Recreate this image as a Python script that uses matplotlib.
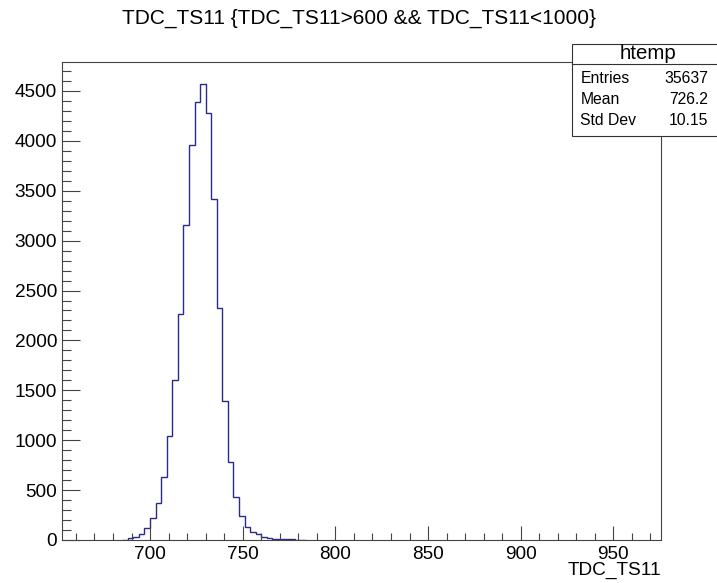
import matplotlib
matplotlib.use("Agg")
import matplotlib.pyplot as plt
import numpy as np
from matplotlib.patches import Rectangle
from matplotlib.ticker import MultipleLocator

plt.rcParams["font.family"] = ["Liberation Sans", "DejaVu Sans"]

# histogram contents, bins of width 3 starting at 685
firstEdge = 685
binWidth = 3
counts = [5, 17, 33, 60, 120, 218, 368, 630, 1047, 1603, 2269, 3153, 3956,
          4391, 4565, 4280, 3414, 2329, 1396, 780, 429, 241, 127, 84, 57,
          30, 25, 12, 10, 8, 6, 4, 3]
edges = firstEdge + binWidth * np.arange(len(counts) + 1)

title = "TDC_TS11 {TDC_TS11>600 && TDC_TS11<1000}"
xLabel = "TDC_TS11"
statsName = "htemp"
statsRows = [("Entries", "35637"), ("Mean", "726.2"), ("Std Dev", "10.15")]

W, H = 717, 583
fig = plt.figure(figsize=(W / 100, H / 100), dpi=100)
ax = fig.add_axes([62 / W, 1 - 540 / H, (661 - 62) / W, (540 - 62) / H])

ax.stairs(counts, edges, color="#2a2a8c", linewidth=1.0)
ax.set_xlim(652.5, 975.7)
ax.set_ylim(0, 4790)

ax.xaxis.set_major_locator(MultipleLocator(50))
ax.xaxis.set_minor_locator(MultipleLocator(10))
ax.yaxis.set_major_locator(MultipleLocator(500))
ax.yaxis.set_minor_locator(MultipleLocator(100))
ax.tick_params(axis="x", which="major", direction="in", length=10.3, width=0.8,
               color="#444444", labelsize=13.7, pad=4.5)
ax.tick_params(axis="x", which="minor", direction="in", length=5.2, width=0.8,
               color="#444444")
ax.tick_params(axis="y", which="major", direction="in", length=12.9, width=0.8,
               color="#444444", labelsize=13.7, pad=3.5)
ax.tick_params(axis="y", which="minor", direction="in", length=6.2, width=0.8,
               color="#444444")
for s in ax.spines.values():
    s.set_linewidth(0.8)
    s.set_color("#444444")

ax.set_xlabel(xLabel, fontsize=13.7, loc="right", labelpad=-1)
fig.text(0.5, 1 - 18 / H, title, ha="center", va="center", fontsize=15)

# stats box (runs off the right edge like the original)
bx0, btop, bbot, bhead = 572, 43.5, 135.5, 63.5
fig.patches.append(Rectangle((bx0 / W, 1 - bbot / H), (W + 10 - bx0) / W,
                             (bbot - btop) / H, transform=fig.transFigure,
                             facecolor="white", edgecolor="#333333",
                             linewidth=0.8, zorder=5))
fig.add_artist(plt.Line2D([bx0 / W, 1.0], [1 - bhead / H] * 2,
                          transform=fig.transFigure, color="#333333",
                          linewidth=0.8, zorder=6))
fig.text(648 / W, 1 - 53.5 / H, statsName, ha="center", va="center",
         fontsize=14.7, zorder=7)
for i, (name, val) in enumerate(statsRows):
    y = 1 - (78.5 + 21.2 * i) / H
    fig.text(580.5 / W, y, name, ha="left", va="center", fontsize=11.3, zorder=7)
    fig.text(708.5 / W, y, val, ha="right", va="center", fontsize=11.3, zorder=7)

fig.savefig("out.png", dpi=100)
